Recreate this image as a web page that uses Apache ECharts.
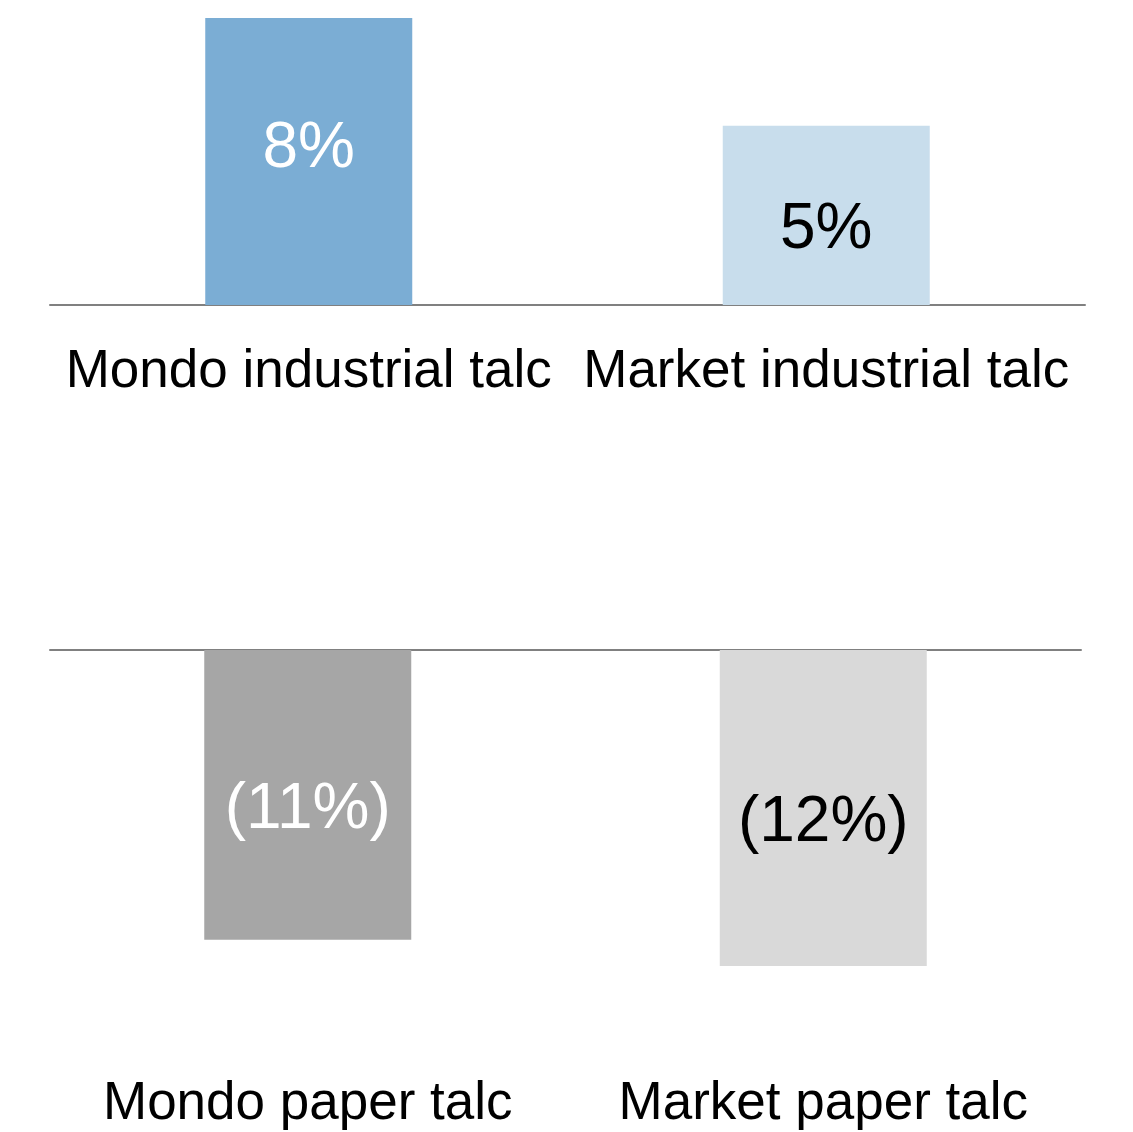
<!DOCTYPE html>
<html>
<head>
<meta charset="utf-8">
<title>Talc volume growth</title>
<script src="https://cdn.jsdelivr.net/npm/echarts@6/dist/echarts.min.js"></script>
<style>
  html, body { margin: 0; padding: 0; background: #ffffff; }
  #chart { width: 1133px; height: 1132px; }
</style>
</head>
<body>
<div id="chart"></div>
<script>
// Volume growth, industrial talc (top panel) and paper talc (bottom panel), in %
const industrialCategories = ['Mondo industrial talc', 'Market industrial talc'];
const industrialGrowth = [8, 5];
const paperCategories = ['Mondo paper talc', 'Market paper talc'];
const paperGrowth = [-11, -12];

const FONT = '"Liberation Sans", Arial, Helvetica, sans-serif';
const AXIS_GREY = '#808080';
const industrialColors = ['#7BADD4', '#C8DDEC'];
const paperColors = ['#A6A6A6', '#D9D9D9'];
const industrialLabelColors = ['#ffffff', '#000000'];
const paperLabelColors = ['#ffffff', '#000000'];
// vertical nudge of each value label from the bar centre
const industrialLabelNudge = [-12, 15];
const paperLabelNudge = [16, 15];

function pct(v) {
  return v < 0 ? '(' + Math.abs(v) + '%)' : v + '%';
}

function barItems(values, colors, labelColors, nudges) {
  return values.map((v, i) => ({
    value: v,
    itemStyle: { color: colors[i] },
    label: { color: labelColors[i], offset: [0, nudges[i]] }
  }));
}

const valueLabel = {
  show: true,
  position: 'inside',
  fontFamily: FONT,
  fontSize: 64,
  formatter: p => pct(p.value)
};

const chart = echarts.init(document.getElementById('chart'), null, { renderer: 'canvas' });

chart.setOption({
  animation: false,
  backgroundColor: '#ffffff',
  grid: [
    { left: 50, right: 48, top: 18, height: 287 },
    { left: 50, right: 52, top: 650, height: 316 }
  ],
  xAxis: [
    {
      type: 'category', gridIndex: 0, data: industrialCategories,
      axisLine: { show: true, lineStyle: { color: AXIS_GREY, width: 2 } },
      axisTick: { show: false },
      axisLabel: { interval: 0, margin: 41, fontSize: 53, color: '#000000', fontFamily: FONT }
    },
    {
      type: 'category', gridIndex: 1, data: paperCategories, position: 'top',
      axisLine: { show: true, lineStyle: { color: AXIS_GREY, width: 2 } },
      axisTick: { show: false },
      axisLabel: { show: false }
    },
    {
      type: 'category', gridIndex: 1, data: paperCategories, position: 'bottom',
      axisLine: { show: false, onZero: false },
      axisTick: { show: false },
      axisLabel: { interval: 0, margin: 112, fontSize: 53, color: '#000000', fontFamily: FONT }
    }
  ],
  yAxis: [
    { type: 'value', gridIndex: 0, min: 0, max: 8, show: false, splitLine: { show: false } },
    { type: 'value', gridIndex: 1, min: -12, max: 0, show: false, splitLine: { show: false } }
  ],
  series: [
    {
      type: 'bar', xAxisIndex: 0, yAxisIndex: 0, barWidth: 207,
      data: barItems(industrialGrowth, industrialColors, industrialLabelColors, industrialLabelNudge),
      label: valueLabel
    },
    {
      type: 'bar', xAxisIndex: 1, yAxisIndex: 1, barWidth: 207,
      data: barItems(paperGrowth, paperColors, paperLabelColors, paperLabelNudge),
      label: valueLabel
    }
  ]
});
</script>
</body>
</html>
